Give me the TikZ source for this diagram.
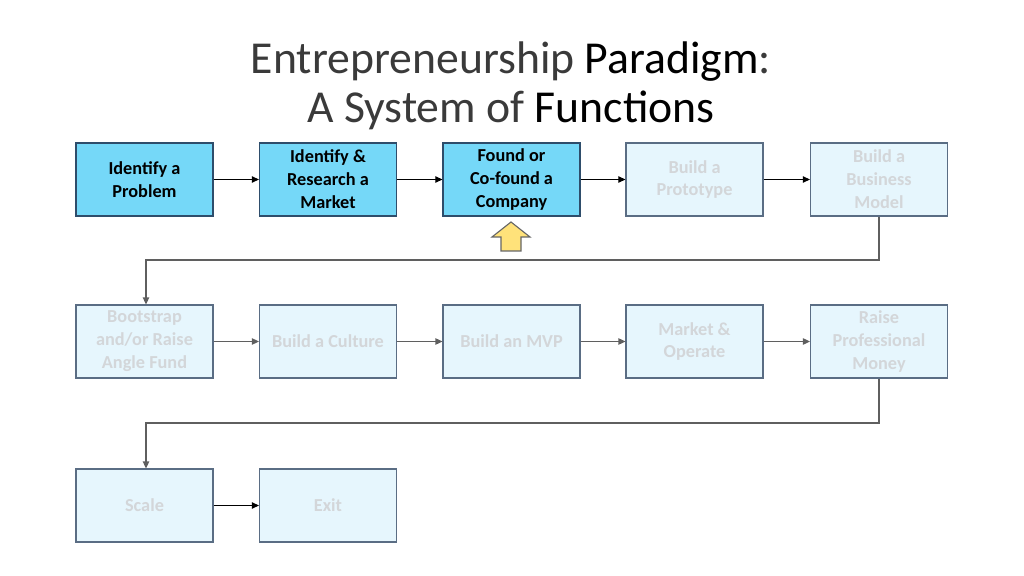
\documentclass[tikz,border=0pt]{standalone}
\usepackage{fontspec}
\setmainfont{Carlito}
\usetikzlibrary{arrows.meta,positioning}
\definecolor{hifill}{HTML}{75D8F8}
\definecolor{hiborder}{HTML}{2E4D6B}
\definecolor{lofill}{HTML}{E6F6FD}
\definecolor{loborder}{HTML}{5A6D84}
\definecolor{lotext}{HTML}{D3D6D9}
\definecolor{lowline}{HTML}{5F5F5F}
\definecolor{titlegray}{HTML}{3A3A3A}
\definecolor{yel}{HTML}{FFE27A}
\tikzset{
  box/.style={rectangle, minimum width=137*0.025cm, minimum height=73*0.025cm,
    align=center, font=\bfseries\fontsize{13}{16.3}\selectfont, line width=0.8pt, inner sep=1pt},
  hibox/.style={box, draw=hiborder, fill=hifill, text=black},
  lobox/.style={box, draw=loborder, fill=lofill, text=lotext},
  hiarrow/.style={draw=black, line width=0.8pt, -{Triangle[length=5pt,width=4.5pt]}},
  loarrow/.style={draw=lowline, line width=1.1pt, -{Triangle[length=5pt,width=4.5pt]}},
  titletext/.style={font=\fontsize{32.5}{40}\selectfont, text=titlegray},
}
\begin{document}
\begin{tikzpicture}[x=0.025cm,y=-0.025cm]
\useasboundingbox (0,0) rectangle (1024,576);
% title
\node[titletext] (t1) at (511,62) {Entrepreneurship \textcolor{black}{Paradigm}:};
\node[titletext] (t2) at (511,110) {A System of \textcolor{black}{Functions}};
% row 1
\node[hibox] (b1) at (144.5,179.5) {Identify a\\Problem};
\node[hibox] (b2) at (328,179.5) {Identify \&\\Research a\\Market};
\node[hibox] (b3) at (511.5,179.5) {Found or\\Co-found a\\Company};
\node[lobox] (b4) at (694.5,179.5) {Build a\\Prototype};
\node[lobox] (b5) at (879,179.5) {Build a\\Business\\Model};
% row 2
\node[lobox] (b6) at (144.5,341.5) {Bootstrap\\and/or Raise\\Angle Fund};
\node[lobox] (b7) at (328,341.5) {Build a Culture};
\node[lobox] (b8) at (511.5,341.5) {Build an MVP};
\node[lobox] (b9) at (694.5,341.5) {Market \&\\Operate};
\node[lobox] (b10) at (879,341.5) {Raise\\Professional\\Money};
% row 3
\node[lobox] (b11) at (144.5,505.5) {Scale};
\node[lobox] (b12) at (328,505.5) {Exit};
% connectors
\draw[hiarrow] (b1) -- (b2);
\draw[hiarrow] (b2) -- (b3);
\draw[hiarrow] (b3) -- (b4);
\draw[hiarrow] (b4) -- (b5);
\coordinate (c1) at (879,260);
\coordinate (c2) at (146,260);
\draw[loarrow] (b5.south) -- (c1) -- (c2) -- (b6.north -| c2);
\draw[loarrow] (b6) -- (b7);
\draw[loarrow] (b7) -- (b8);
\draw[loarrow] (b8) -- (b9);
\draw[loarrow] (b9) -- (b10);
\coordinate (c3) at (879,423);
\coordinate (c4) at (146,423);
\draw[loarrow] (b10.south) -- (c3) -- (c4) -- (b11.north -| c4);
\draw[hiarrow] (b11) -- (b12);
% yellow up arrow
\draw[fill=yel, draw=black!60, line width=0.8pt]
  (511,222) -- (530,237) -- (521,237) -- (521,251) -- (501,251) -- (501,237) -- (492,237) -- cycle;
\end{tikzpicture}
\end{document}
